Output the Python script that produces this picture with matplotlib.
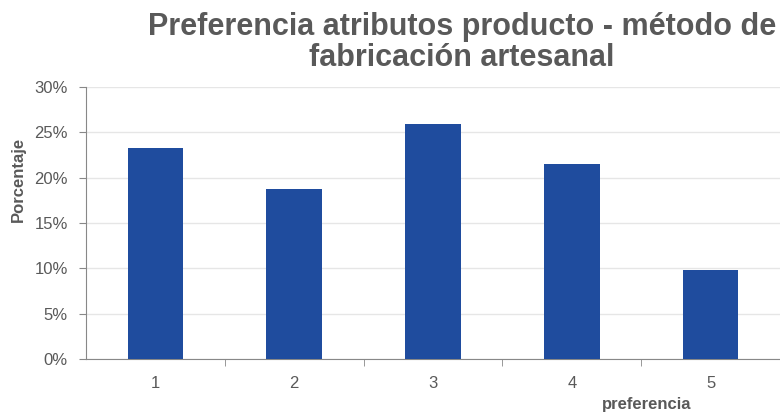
import numpy as np
import matplotlib.pyplot as plt
from matplotlib.ticker import FuncFormatter, MultipleLocator

plt.rcParams['font.family'] = ['Liberation Sans', 'DejaVu Sans']

# preferencia por categoria (porcentaje)
categorias = ["1", "2", "3", "4", "5"]
porcentaje = [23.3, 18.8, 25.9, 21.5, 9.8]

gris = "#595959"
azul = "#1f4c9e"

fig = plt.figure(figsize=(7.8, 4.17), dpi=100)
ax = fig.add_axes([86 / 780, 58 / 417, 694 / 780, 272 / 417])

x = np.arange(len(categorias))
ax.bar(x, porcentaje, width=0.4, color=azul, zorder=3)

ax.set_xlim(-0.5, len(categorias) - 0.5)
ax.set_ylim(0, 30)
ax.yaxis.set_major_locator(MultipleLocator(5))
ax.yaxis.set_major_formatter(FuncFormatter(lambda v, p: f"{v:.0f}%"))
ax.grid(axis="y", color="#e6e6e6", linewidth=1, zorder=0)

# etiquetas de categoria centradas, marcas entre categorias
ax.set_xticks(x)
ax.set_xticklabels(categorias)
ax.set_xticks(np.arange(len(categorias)) + 0.5, minor=True)
ax.tick_params(axis="x", which="major", length=0, pad=12, labelsize=12, labelcolor=gris)
ax.tick_params(axis="x", which="minor", length=5, color="#888888")
ax.tick_params(axis="y", length=5, color="#888888", labelsize=12, labelcolor=gris, pad=8)

for s in ["top", "right"]:
    ax.spines[s].set_visible(False)
for s in ["left", "bottom"]:
    ax.spines[s].set_color("#888888")

ax.set_ylabel("Porcentaje", fontsize=12, fontweight="bold", color=gris)
ax.yaxis.set_label_coords(-0.0865, 0.66)
fig.text(647 / 780, 1 - 409 / 417, "preferencia", fontsize=12, fontweight="bold",
         color=gris, ha="center", va="baseline")

fig.text(462 / 780, 1 - 12 / 417, "Preferencia atributos producto - método de\nfabricación artesanal",
         fontsize=22, fontweight="bold", color=gris, ha="center", va="top", linespacing=1.05)

fig.savefig("out.png", dpi=100)
